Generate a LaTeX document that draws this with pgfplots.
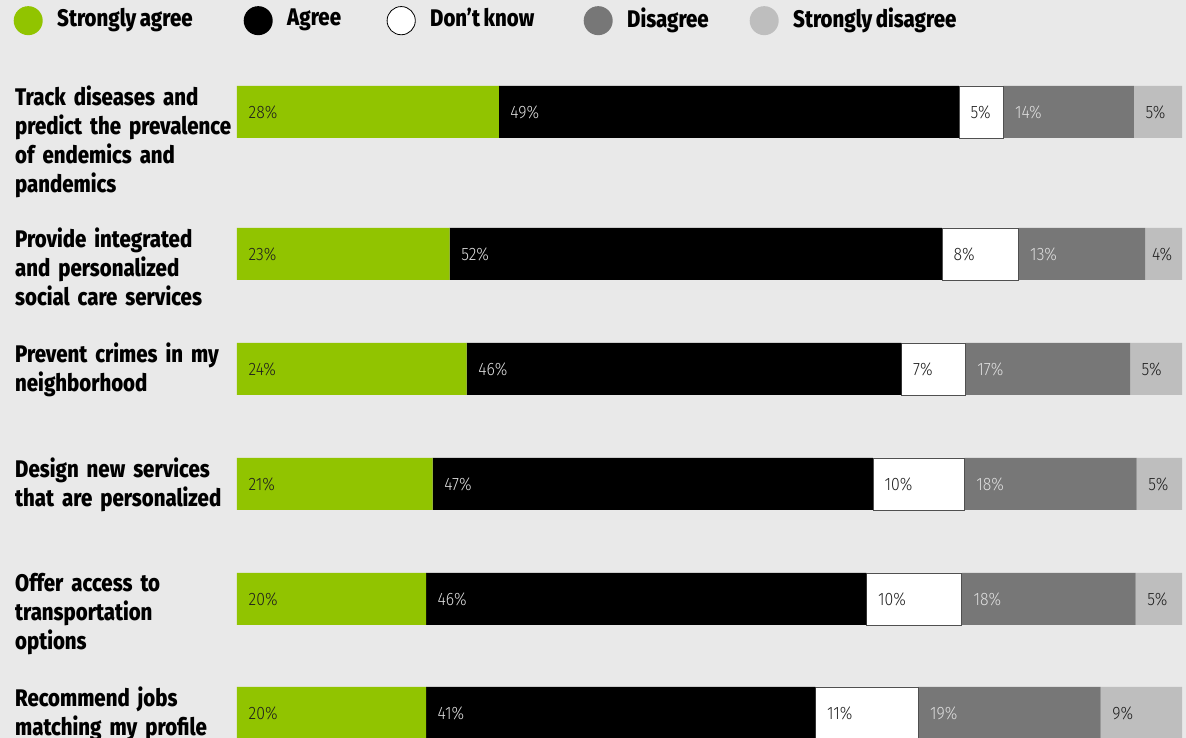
\documentclass[border=0pt]{standalone}
\usepackage{fontspec}
\usepackage{pgfplots}
\pgfplotsset{compat=1.18}
\setmainfont{Fira Sans}
\newfontfamily\boldcond{Fira Sans ExtraBold}[FakeStretch=0.85, WordSpace=0.75]
\newfontfamily\lightcond{Fira Sans Light}[FakeStretch=0.88]
\definecolor{bg}{RGB}{233,233,233}
\definecolor{sa}{RGB}{145,196,0}
\definecolor{dis}{RGB}{119,119,119}
\definecolor{sdis}{RGB}{190,190,190}
\definecolor{darktxt}{RGB}{30,30,30}
\definecolor{lighttxt}{RGB}{222,222,222}
\definecolor{wborder}{RGB}{80,80,80}
\newcommand{\labfont}{\boldcond\fontsize{24}{29}\selectfont}
\begin{document}
\begin{tikzpicture}
\fill[bg] (0,0) rectangle (1186pt,738pt);
\begin{axis}[
  at={(237pt,0pt)}, anchor=south west,
  scale only axis, width=945pt, height=738pt,
  xmin=0, xmax=100, ymin=0, ymax=738,
  xbar stacked, bar width=52pt,
  axis line style={draw=none},
  xtick=\empty,
  ytick={626,484,369,254,139,25},
  yticklabels={
    {Track diseases and\\predict the prevalence\\of endemics and\\pandemics},
    {Provide integrated\\and personalized\\social care services},
    {Prevent crimes in my\\neighborhood},
    {Design new services\\that are personalized},
    {Offer access to\\transportation\\options},
    {Recommend jobs\\matching my profile}},
  major tick length=0pt,
  yticklabel style={anchor=north west, xshift=-222pt, yshift=26pt, inner sep=0pt,
    text width=240pt, align=left, font=\labfont},
  legend columns=5,
  legend style={draw=none, fill=none, at={(-0.2365,0.9919)}, anchor=north west,
    inner sep=0pt, font=\labfont, nodes={inner sep=0pt},
    /tikz/every odd column/.style={column sep=14.5pt}},
  legend image code/.code={\path[#1, draw=none] (14.5pt,-2.5pt) circle (14.5pt);},
]
\addplot[fill=sa, draw=none] coordinates {(27.7,626) (22.5,484) (24.3,369) (20.7,254) (20.0,139) (20.0,25)};
\addlegendentry{\makebox[186.5pt][l]{Strongly agree}}
\addplot[fill=black, draw=none] coordinates {(48.7,626) (52.1,484) (46.0,369) (46.6,254) (46.6,139) (41.2,25)};
\addlegendentry{\makebox[99.5pt][l]{Agree}}
\addplot[fill=white, draw=wborder, line width=0.8pt,
  legend image code/.code={\path[fill=white, draw=black, line width=0.8pt] (14.5pt,-2.5pt) circle (14.1pt);}]
  coordinates {(4.7,626) (8.1,484) (6.8,369) (9.7,254) (10.1,139) (10.9,25)};
\addlegendentry{\makebox[153.5pt][l]{Don’t know}}
\addplot[fill=dis, draw=none] coordinates {(13.8,626) (13.4,484) (17.4,369) (18.2,254) (18.4,139) (19.3,25)};
\addlegendentry{\makebox[122.5pt][l]{Disagree}}
\addplot[fill=sdis, draw=none] coordinates {(5.1,626) (3.9,484) (5.5,369) (4.8,254) (4.9,139) (8.6,25)};
\addlegendentry{Strongly disagree}
\end{axis}
\begin{axis}[
  at={(237pt,0pt)}, anchor=south west,
  scale only axis, width=945pt, height=738pt,
  xmin=0, xmax=100, ymin=0, ymax=738,
  hide axis, clip=false,
  point meta=explicit,
  nodes near coords={\pgfmathprintnumber{\pgfplotspointmeta}\%},
  /pgf/number format/assume math mode=true,
  every node near coord/.style={anchor=west, xshift=11.5pt, inner sep=0pt,
    font=\lightcond\fontsize{18}{20}\selectfont},
]
\addplot[draw=none, mark=none, every node near coord/.append style={text=darktxt}] table[meta=l] {
x y l
0 626 28
0 484 23
0 369 24
0 254 21
0 139 20
0 25 20
};
\addplot[draw=none, mark=none, every node near coord/.append style={text=lighttxt}] table[meta=l] {
x y l
27.7 626 49
22.5 484 52
24.3 369 46
20.7 254 47
20.0 139 46
20.0 25 41
};
\addplot[draw=none, mark=none, every node near coord/.append style={text=darktxt}] table[meta=l] {
x y l
76.4 626 5
74.6 484 8
70.3 369 7
67.3 254 10
66.6 139 10
61.2 25 11
};
\addplot[draw=none, mark=none, every node near coord/.append style={text=lighttxt}] table[meta=l] {
x y l
81.1 626 14
82.7 484 13
77.1 369 17
77.0 254 18
76.7 139 18
72.1 25 19
};
\addplot[draw=none, mark=none, every node near coord/.append style={text=darktxt}] table[meta=l] {
x y l
94.9 626 5
95.6 484 4
94.5 369 5
95.2 254 5
95.1 139 5
91.4 25 9
};
\end{axis}
\pgfresetboundingbox
\path[use as bounding box] (0,0) rectangle (1186pt,738pt);
\end{tikzpicture}
\end{document}
